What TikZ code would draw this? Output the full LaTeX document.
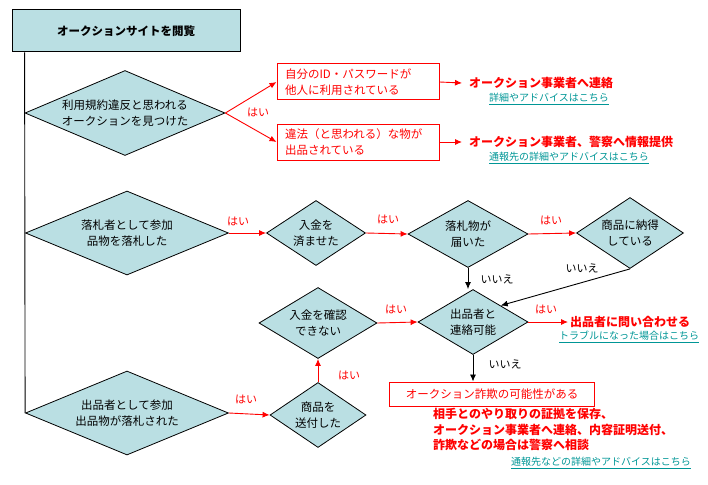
\documentclass[tikz,border=0pt]{standalone}
\usepackage{fontspec}
\setmainfont{Noto Sans CJK JP}
\usetikzlibrary{shapes.geometric,arrows.meta}
\definecolor{boxfill}{RGB}{186,223,227}
\definecolor{linkteal}{RGB}{0,150,150}
\begin{document}
\begin{tikzpicture}[x=1pt,y=-1pt,>={Latex[length=7pt,width=6pt]},
  every node/.style={font=\fontsize{11.5}{16}\selectfont},
  choice/.style={diamond,draw,fill=boxfill,align=center,inner sep=0pt,line width=0.8pt},
  redbox/.style={draw=red,line width=1pt,text=red,align=left,inner xsep=8pt,text width=146pt,minimum height=36pt},
  result/.style={text=red,font=\fontsize{12}{15.5}\selectfont\bfseries,inner xsep=7pt,inner ysep=2pt},
  weblink/.style={text=linkteal,font=\fontsize{10}{12}\selectfont,inner sep=0pt},
  yes/.style={text=red,font=\fontsize{11}{12}\selectfont,inner sep=0pt},
  no/.style={font=\fontsize{11}{12}\selectfont,inner sep=0pt},
  redflow/.style={draw=red,line width=0.9pt,->},
  flow/.style={draw,line width=0.9pt,->}]
\useasboundingbox (0,0) rectangle (708,484);
% start
\node[draw,fill=boxfill,line width=1pt,minimum width=228pt,minimum height=42pt,font=\fontsize{11.5}{14}\selectfont\bfseries] (title) at (126,31) {オークションサイトを閲覧};
\node[choice,minimum width=200pt,minimum height=85pt,aspect=2.35] (lookD) at (125,113) {利用規約違反と思われる\\オークションを見つけた};
\node[choice,minimum width=203pt,minimum height=84pt,aspect=2.42] (bidD) at (127,233) {落札者として参加\\品物を落札した};
\node[choice,minimum width=203pt,minimum height=84pt,aspect=2.42] (sellD) at (127,413) {出品者として参加\\出品物が落札された};
\draw[line width=0.9pt] (title.south -| lookD.west) -- (sellD.west);
% violation
\node[redbox] (idbox) at (358,82) {自分のID・パスワードが\\他人に利用されている};
\node[redbox] (illegalbox) at (358,142) {違法（と思われる）な物が\\出品されている};
\draw[redflow] (lookD.east) -- (idbox.west);
\draw[redflow] (lookD.east) -- (illegalbox.west);
\node[yes] (yes1) at (258,112) {はい};
\node[result,anchor=west] (contact1) at (440+22,83) {オークション事業者へ連絡};
\node[weblink] (link1) at (549,99) {\underline{詳細やアドバイスはこちら}};
\node[result,anchor=west] (contact2) at (440+22,142) {オークション事業者、警察へ情報提供};
\node[weblink] (link2) at (569,158) {\underline{通報先の詳細やアドバイスはこちら}};
\draw[redflow] (idbox.east) -- (contact1.west);
\draw[redflow] (illegalbox.east) -- (contact2.west);
% buyer
\node[choice,minimum width=99pt,minimum height=65pt,aspect=1.52] (payD) at (316,233) {入金を\\済ませた};
\node[choice,minimum width=120pt,minimum height=67pt,aspect=1.79] (recvD) at (468,234) {落札物が\\届いた};
\node[choice,minimum width=107pt,minimum height=71pt,aspect=1.51] (okD) at (630,233) {商品に納得\\している};
\draw[redflow] (bidD.east) -- (payD.west);
\draw[redflow] (payD.east) -- (recvD.west);
\draw[redflow] (recvD.east) -- (okD.west);
\node[yes] (yes2) at (238,221) {はい};
\node[yes] (yes3) at (388,219) {はい};
\node[yes] (yes4) at (551,220) {はい};
% seller
\node[choice,minimum width=110pt,minimum height=65pt,aspect=1.69] (sellerD) at (473,322) {出品者と\\連絡可能};
\node[choice,minimum width=118pt,minimum height=71pt,aspect=1.66] (unpaidD) at (318,323) {入金を確認\\できない};
\node[choice,minimum width=96pt,minimum height=65pt,aspect=1.48] (sendD) at (318,415) {商品を\\送付した};
\draw[flow] (recvD.south) -- (recvD.south |- sellerD.north);
\draw[flow] (okD.south) -- (sellerD.north east);
\node[no] (no1) at (497,279) {いいえ};
\node[no] (no2) at (582,268) {いいえ};
\draw[redflow] (sellD.east) -- (sendD.west);
\draw[redflow] (sendD.north) -- (unpaidD.south);
\draw[redflow] (unpaidD.east) -- (sellerD.west);
\node[yes] (yes5) at (246,399) {はい};
\node[yes] (yes6) at (349,375) {はい};
\node[yes] (yes7) at (396,309) {はい};
\node[result,anchor=west,inner xsep=2pt] (ask) at (568,322) {出品者に問い合わせる};
\node[weblink] (link3) at (629,337) {\underline{トラブルになった場合はこちら}};
\draw[redflow] (sellerD.east) -- (ask.west);
\node[yes] (yes8) at (546,309) {はい};
% fraud
\node[draw=red,line width=1pt,text=red,minimum width=205pt,minimum height=24pt,inner sep=0pt] (fraudbox) at (492,394) {オークション詐欺の可能性がある};
\draw[flow] (sellerD.south) -- (sellerD.south |- fraudbox.north);
\node[no] (no3) at (505,364) {いいえ};
\node[result,anchor=north west,align=left,inner sep=0pt] (advice) at (433,408) {相手とのやり取りの証拠を保存、\\オークション事業者へ連絡、内容証明送付、\\詐欺などの場合は警察へ相談};
\node[weblink] (link4) at (601,463) {\underline{通報先などの詳細やアドバイスはこちら}};
\end{tikzpicture}
\end{document}
